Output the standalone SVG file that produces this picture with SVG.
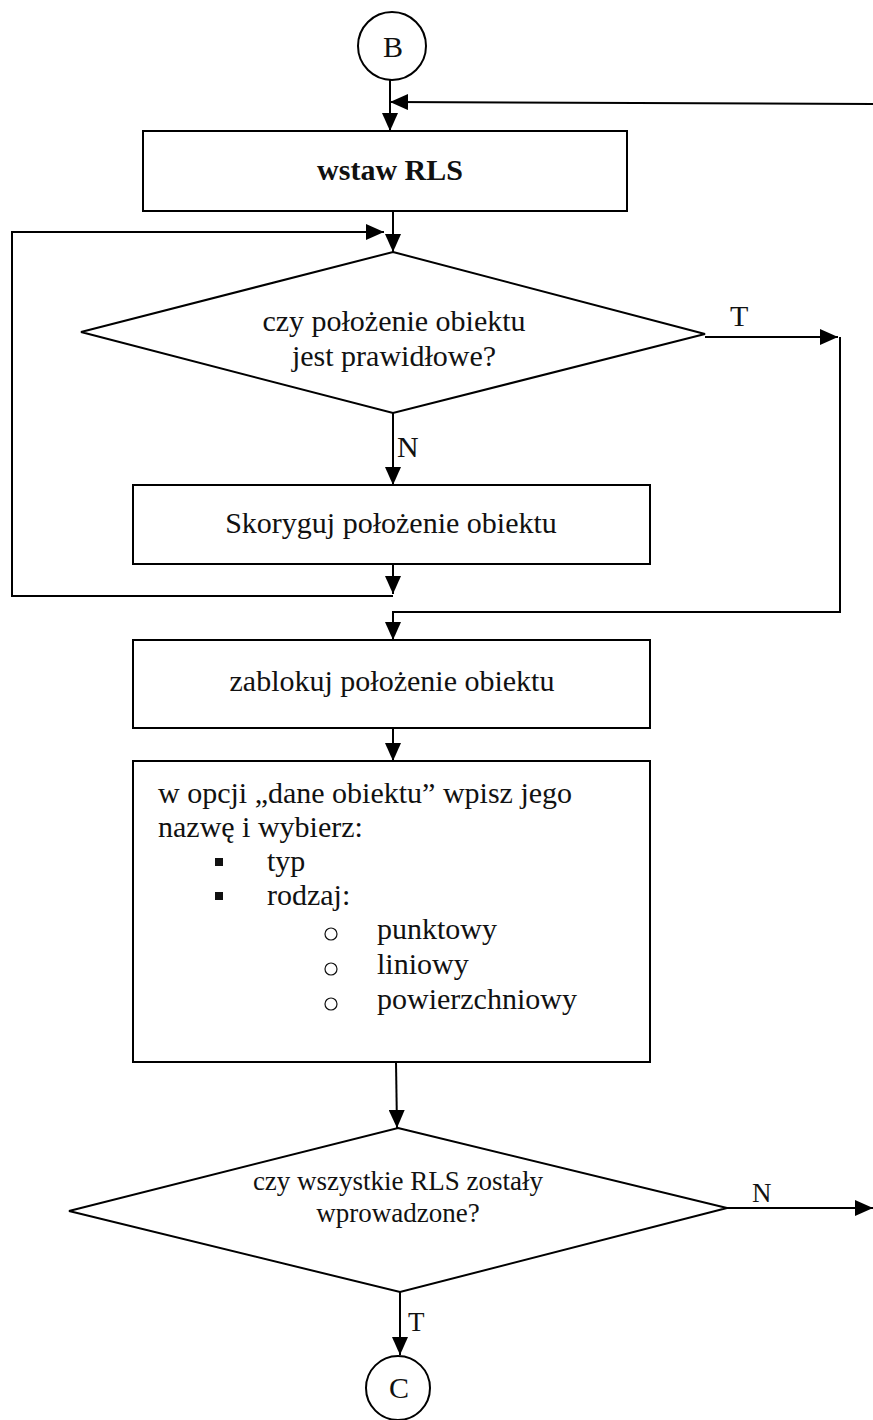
<svg xmlns="http://www.w3.org/2000/svg" width="873" height="1420" viewBox="0 0 873 1420">
  <style>
    .shape { fill: #ffffff; stroke: #000000; stroke-width: 2; }
    .line { fill: none; stroke: #000000; stroke-width: 2; }
    .arrow { fill: none; stroke: #000000; stroke-width: 2; marker-end: url(#head); }
    text { font-family: "Liberation Serif", "Times New Roman", serif; fill: #111111; }
    .main { font-size: 30px; }
    .small { font-size: 27px; }
    .bold { font-weight: bold; }
    .mid { text-anchor: middle; }
  </style>
  <defs>
    <marker id="head" markerUnits="userSpaceOnUse" markerWidth="18" markerHeight="16" refX="18" refY="8" orient="auto">
      <path d="M0,0 L18,8 L0,16 z" fill="#000000"/>
    </marker>
  </defs>

  <rect width="873" height="1420" fill="#ffffff"/>

  <!-- connectors -->
  <g id="connectors">
    <line class="arrow" x1="390" y1="79" x2="390" y2="131"/>
    <path class="arrow" d="M873,104 L390,102"/>
    <line class="arrow" x1="393" y1="211" x2="393" y2="252"/>
    <path class="arrow" d="M393,564 L393,594"/>
    <path class="arrow" d="M393,596 L12,596 L12,232 L384,232"/>
    <path class="arrow" d="M705,337 L838,337"/>
    <path class="arrow" d="M840,337 L840,612 L393,612 L393,640"/>
    <line class="arrow" x1="393" y1="413" x2="393" y2="485"/>
    <line class="arrow" x1="393" y1="728" x2="393" y2="761"/>
    <line class="arrow" x1="396" y1="1062" x2="397" y2="1128"/>
    <line class="arrow" x1="727" y1="1208" x2="873" y2="1208"/>
    <line class="arrow" x1="400" y1="1292" x2="400" y2="1355"/>
    <text class="main" x="730" y="326">T</text>
    <text class="main" x="397" y="457">N</text>
    <text class="small" x="752" y="1202">N</text>
    <text class="small" x="408" y="1331">T</text>
  </g>

  <g id="start-b">
    <circle class="shape" cx="392" cy="46" r="34"/>
    <text class="main mid" x="393" y="57">B</text>
  </g>

  <g id="insert-rls">
    <rect class="shape" x="143" y="131" width="484" height="80"/>
    <text class="main bold mid" x="390" y="180">wstaw RLS</text>
  </g>

  <g id="check-position">
    <polygon class="shape" points="393,252 705,334 393,413 81,332"/>
    <text class="main mid" x="394" y="331">czy położenie obiektu</text>
    <text class="main mid" x="394" y="366">jest prawidłowe?</text>
  </g>

  <g id="correct-position">
    <rect class="shape" x="133" y="485" width="517" height="79"/>
    <text class="main mid" x="391" y="533">Skoryguj położenie obiektu</text>
  </g>

  <g id="lock-position">
    <rect class="shape" x="133" y="640" width="517" height="88"/>
    <text class="main mid" x="392" y="691">zablokuj położenie obiektu</text>
  </g>

  <g id="object-data">
    <rect class="shape" x="133" y="761" width="517" height="301"/>
    <text class="main" x="158" y="803">w opcji „dane obiektu” wpisz jego</text>
    <text class="main" x="158" y="837">nazwę i wybierz:</text>
    <rect x="215" y="858" width="8" height="8" fill="#111111"/>
    <text class="main" x="267" y="871">typ</text>
    <rect x="215" y="892" width="8" height="8" fill="#111111"/>
    <text class="main" x="267" y="905">rodzaj:</text>
    <circle cx="331" cy="934" r="6" fill="none" stroke="#111111" stroke-width="1.2"/>
    <text class="main" x="377" y="939">punktowy</text>
    <circle cx="331" cy="969" r="6" fill="none" stroke="#111111" stroke-width="1.2"/>
    <text class="main" x="377" y="974">liniowy</text>
    <circle cx="331" cy="1004" r="6" fill="none" stroke="#111111" stroke-width="1.2"/>
    <text class="main" x="377" y="1009">powierzchniowy</text>
  </g>

  <g id="check-all">
    <polygon class="shape" points="398,1128 727,1208 400,1292 69,1211"/>
    <text class="small mid" x="398" y="1190">czy wszystkie RLS zostały</text>
    <text class="small mid" x="398" y="1222">wprowadzone?</text>
  </g>

  <g id="end-c">
    <circle class="shape" cx="398" cy="1388" r="32"/>
    <text class="main mid" x="399" y="1398">C</text>
  </g>
</svg>
